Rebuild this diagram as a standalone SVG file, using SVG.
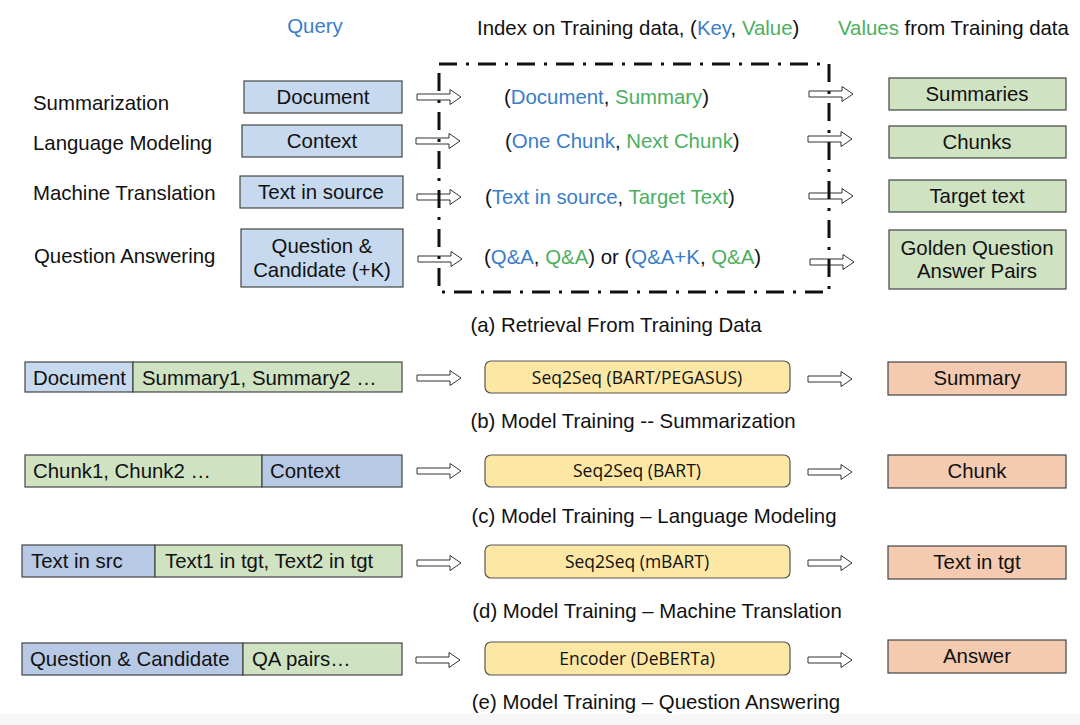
<svg xmlns="http://www.w3.org/2000/svg" xmlns:xlink="http://www.w3.org/1999/xlink" width="1080" height="725" viewBox="0 0 1080 725">
<style>
text{font-family:"Liberation Sans",Arial,sans-serif;font-size:20.4px;fill:#111}
.c{text-anchor:middle}
.b{fill:#3a7dc9}
.g{fill:#4caf5f}
.qb{fill:#c6d9ee;stroke:#444;stroke-width:1.2}
.qb2{fill:#b8c9e6;stroke:#444;stroke-width:1.2}
.gb{fill:#cfe3c2;stroke:#444;stroke-width:1.2}
.pb{fill:#f4cbb0;stroke:#444;stroke-width:1.2}
.yb{fill:#fde7a4;stroke:#555;stroke-width:1.2}
.m{font-family:"Open Sans","Lato",sans-serif;font-size:17.5px}
.arr{fill:#fff;stroke:#333;stroke-width:1}
</style>
<defs>
<path id="ar" class="arr" d="M0,-3 L33,-3 L33,-7.5 L44,0 L33,7.5 L33,3 L0,3 Z"/>
</defs>
<rect x="0" y="0" width="1080" height="725" fill="#fff"/>
<rect x="0" y="714" width="1080" height="11" fill="#f6f6f6"/>

<g id="header">
<text class="c b" x="315" y="33">Query</text>
<text x="477" y="35">Index on Training data, (<tspan class="b">Key</tspan>, <tspan class="g">Value</tspan>)</text>
<text x="838" y="35"><tspan class="g">Values</tspan> from Training data</text>
</g>

<g id="task-labels">
<text x="33" y="110">Summarization</text>
<text x="33" y="150">Language Modeling</text>
<text x="33" y="200">Machine Translation</text>
<text x="34" y="263">Question Answering</text>
</g>

<g id="query-document"><rect class="qb" x="244" y="81" width="158" height="32"/><text class="c" x="323" y="104">Document</text></g>
<g id="query-context"><rect class="qb" x="242" y="125" width="160" height="32"/><text class="c" x="322" y="148">Context</text></g>
<g id="query-text-source"><rect class="qb" x="240" y="176" width="163" height="32"/><text class="c" x="321" y="199">Text in source</text></g>
<g id="query-question"><rect class="qb" x="241" y="229" width="162" height="58"/><text class="c" x="322" y="253">Question &amp;</text><text class="c" x="322" y="277">Candidate (+K)</text></g>

<g id="value-summaries"><rect class="gb" x="889" y="78" width="177" height="32"/><text class="c" x="977" y="101">Summaries</text></g>
<g id="value-chunks"><rect class="gb" x="889" y="126" width="177" height="32"/><text class="c" x="977" y="149">Chunks</text></g>
<g id="value-target"><rect class="gb" x="889" y="180" width="177" height="32"/><text class="c" x="977" y="203">Target text</text></g>
<g id="value-golden"><rect class="gb" x="889" y="230" width="177" height="59"/><text class="c" x="977" y="255">Golden Question</text><text class="c" x="977" y="278">Answer Pairs</text></g>

<g id="connectors">
<use xlink:href="#ar" x="417" y="97"/>
<use xlink:href="#ar" x="416" y="141"/>
<use xlink:href="#ar" x="417" y="197"/>
<use xlink:href="#ar" x="418" y="259"/>
<use xlink:href="#ar" x="809" y="94"/>
<use xlink:href="#ar" x="808" y="139"/>
<use xlink:href="#ar" x="809" y="196"/>
<use xlink:href="#ar" x="810" y="262"/>
<use xlink:href="#ar" x="417" y="378"/>
<use xlink:href="#ar" x="808" y="379"/>
<use xlink:href="#ar" x="417" y="471"/>
<use xlink:href="#ar" x="808" y="472"/>
<use xlink:href="#ar" x="417" y="563"/>
<use xlink:href="#ar" x="808" y="563"/>
<use xlink:href="#ar" x="416" y="660"/>
<use xlink:href="#ar" x="808" y="660"/>
</g>

<g id="index-box">
<rect x="439" y="64" width="390" height="228" fill="none" stroke="#111" stroke-width="3" stroke-dasharray="18 9 3 9"/>
<text x="504" y="104">(<tspan class="b">Document</tspan>, <tspan class="g">Summary</tspan>)</text>
<text x="505" y="148">(<tspan class="b">One Chunk</tspan>, <tspan class="g">Next Chunk</tspan>)</text>
<text x="485" y="204">(<tspan class="b">Text in source</tspan>, <tspan class="g">Target Text</tspan>)</text>
<text x="484" y="264">(<tspan class="b">Q&amp;A</tspan>, <tspan class="g">Q&amp;A</tspan>) or (<tspan class="b">Q&amp;A+K</tspan>, <tspan class="g">Q&amp;A</tspan>)</text>
</g>
<text class="c" x="616" y="332">(a) Retrieval From Training Data</text>

<g id="b-input"><rect class="qb" x="25" y="362" width="108" height="30"/><rect class="gb" x="133" y="362" width="269" height="30"/><text x="33" y="385">Document</text><text x="142" y="385">Summary1, Summary2 …</text></g>
<g id="b-model"><rect class="yb" x="485" y="361" width="305" height="32" rx="6"/><text class="c m" x="637" y="384">Seq2Seq (BART/PEGASUS)</text></g>
<g id="b-output"><rect class="pb" x="888" y="362" width="178" height="33"/><text class="c" x="977" y="385">Summary</text></g>
<text class="c" x="633" y="428">(b) Model Training -- Summarization</text>

<g id="c-input"><rect class="gb" x="25" y="455" width="237" height="32"/><rect class="qb2" x="262" y="455" width="140" height="32"/><text x="33" y="478">Chunk1, Chunk2 …</text><text x="270" y="478">Context</text></g>
<g id="c-model"><rect class="yb" x="485" y="455" width="305" height="32" rx="6"/><text class="c m" x="637" y="477">Seq2Seq (BART)</text></g>
<g id="c-output"><rect class="pb" x="888" y="455" width="178" height="33"/><text class="c" x="977" y="478">Chunk</text></g>
<text class="c" x="654" y="523">(c) Model Training – Language Modeling</text>

<g id="d-input"><rect class="qb2" x="22" y="545" width="133" height="32"/><rect class="gb" x="155" y="545" width="247" height="32"/><text x="31" y="568">Text in src</text><text x="165" y="568">Text1 in tgt, Text2 in tgt</text></g>
<g id="d-model"><rect class="yb" x="485" y="545" width="305" height="33" rx="6"/><text class="c m" x="637" y="568">Seq2Seq (mBART)</text></g>
<g id="d-output"><rect class="pb" x="888" y="546" width="178" height="33"/><text class="c" x="977" y="569">Text in tgt</text></g>
<text class="c" x="657" y="618">(d) Model Training – Machine Translation</text>

<g id="e-input"><rect class="qb2" x="22" y="643" width="221" height="32"/><rect class="gb" x="243" y="643" width="159" height="32"/><text x="30" y="666">Question &amp; Candidate</text><text x="252" y="666">QA pairs…</text></g>
<g id="e-model"><rect class="yb" x="485" y="642" width="305" height="33" rx="6"/><text class="c m" x="637" y="665">Encoder (DeBERTa)</text></g>
<g id="e-output"><rect class="pb" x="888" y="640" width="178" height="33"/><text class="c" x="977" y="663">Answer</text></g>
<text class="c" x="656" y="709">(e) Model Training – Question Answering</text>
</svg>
